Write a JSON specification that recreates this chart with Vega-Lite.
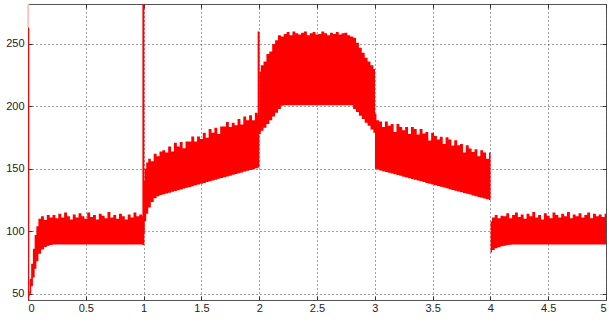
{
  "$schema": "https://vega.github.io/schema/vega-lite/v6.json",
  "width": 578,
  "height": 296,
  "autosize": "none",
  "padding": {"left": 28, "top": 4, "right": 3, "bottom": 22},
  "background": "white",
  "config": {
    "view": {"stroke": "#555", "strokeWidth": 1},
    "axis": {
      "labelFont": "Liberation Sans",
      "labelFontSize": 11,
      "labelColor": "#222",
      "domainColor": "#555",
      "tickColor": "#333",
      "tickSize": -4,
      "labelPadding": 8,
      "title": null,
      "gridColor": "#444",
      "gridDash": [1, 3],
      "gridOpacity": 1,
      "gridWidth": 1
    }
  },
  "datasets": {
    "sig": [
      {"x": 0.011, "lo": 48, "hi": 52},
      {"x": 0.02, "lo": 50, "hi": 62},
      {"x": 0.035, "lo": 56, "hi": 74},
      {"x": 0.05, "lo": 63, "hi": 86},
      {"x": 0.065, "lo": 70, "hi": 97},
      {"x": 0.08, "lo": 76, "hi": 104},
      {"x": 0.1, "lo": 82, "hi": 110},
      {"x": 0.125, "lo": 85.5, "hi": 112},
      {"x": 0.15, "lo": 87.5, "hi": 109},
      {"x": 0.175, "lo": 88.5, "hi": 113},
      {"x": 0.2, "lo": 89, "hi": 111},
      {"x": 0.225, "lo": 89.5, "hi": 113},
      {"x": 0.25, "lo": 89.5, "hi": 110.5},
      {"x": 0.275, "lo": 89.5, "hi": 114},
      {"x": 0.3, "lo": 89.5, "hi": 111},
      {"x": 0.325, "lo": 89.5, "hi": 115},
      {"x": 0.35, "lo": 89.5, "hi": 112},
      {"x": 0.375, "lo": 89.5, "hi": 109.5},
      {"x": 0.4, "lo": 89.5, "hi": 113.5},
      {"x": 0.425, "lo": 89.5, "hi": 111},
      {"x": 0.45, "lo": 89.5, "hi": 114.5},
      {"x": 0.475, "lo": 89.5, "hi": 112},
      {"x": 0.5, "lo": 89.5, "hi": 110},
      {"x": 0.525, "lo": 89.5, "hi": 115},
      {"x": 0.55, "lo": 89.5, "hi": 111.5},
      {"x": 0.575, "lo": 89.5, "hi": 113},
      {"x": 0.6, "lo": 89.5, "hi": 109.5},
      {"x": 0.625, "lo": 89.5, "hi": 114},
      {"x": 0.65, "lo": 89.5, "hi": 112.5},
      {"x": 0.675, "lo": 89.5, "hi": 110.5},
      {"x": 0.7, "lo": 89.5, "hi": 115.5},
      {"x": 0.725, "lo": 89.5, "hi": 111},
      {"x": 0.75, "lo": 89.5, "hi": 113},
      {"x": 0.775, "lo": 89.5, "hi": 110},
      {"x": 0.8, "lo": 89.5, "hi": 114},
      {"x": 0.825, "lo": 89.5, "hi": 112},
      {"x": 0.85, "lo": 89.5, "hi": 109.5},
      {"x": 0.875, "lo": 89.5, "hi": 113.5},
      {"x": 0.9, "lo": 89.5, "hi": 111},
      {"x": 0.925, "lo": 89.5, "hi": 115},
      {"x": 0.95, "lo": 89.5, "hi": 112},
      {"x": 0.975, "lo": 89.5, "hi": 113.5},
      {"x": 1.0, "lo": 89.5, "hi": 112},
      {"x": 1.003, "lo": 98, "hi": 140},
      {"x": 1.015, "lo": 108, "hi": 150},
      {"x": 1.03, "lo": 114, "hi": 155},
      {"x": 1.05, "lo": 119, "hi": 158},
      {"x": 1.075, "lo": 123.5, "hi": 156},
      {"x": 1.1, "lo": 126.5, "hi": 162},
      {"x": 1.125, "lo": 128, "hi": 160},
      {"x": 1.15, "lo": 129, "hi": 164},
      {"x": 1.175, "lo": 129.6, "hi": 165},
      {"x": 1.2, "lo": 130.3, "hi": 163},
      {"x": 1.225, "lo": 130.9, "hi": 168},
      {"x": 1.25, "lo": 131.6, "hi": 164},
      {"x": 1.275, "lo": 132.2, "hi": 171},
      {"x": 1.3, "lo": 132.9, "hi": 168},
      {"x": 1.325, "lo": 133.5, "hi": 171.5},
      {"x": 1.35, "lo": 134.2, "hi": 166.5},
      {"x": 1.375, "lo": 134.8, "hi": 172},
      {"x": 1.4, "lo": 135.5, "hi": 172},
      {"x": 1.425, "lo": 136.1, "hi": 176},
      {"x": 1.45, "lo": 136.8, "hi": 172},
      {"x": 1.475, "lo": 137.4, "hi": 176},
      {"x": 1.5, "lo": 138.1, "hi": 174},
      {"x": 1.525, "lo": 138.7, "hi": 179},
      {"x": 1.55, "lo": 139.4, "hi": 175},
      {"x": 1.575, "lo": 140.0, "hi": 182},
      {"x": 1.6, "lo": 140.7, "hi": 179},
      {"x": 1.625, "lo": 141.3, "hi": 183},
      {"x": 1.65, "lo": 142.0, "hi": 178},
      {"x": 1.675, "lo": 142.6, "hi": 184},
      {"x": 1.7, "lo": 143.2, "hi": 184},
      {"x": 1.725, "lo": 143.9, "hi": 187.5},
      {"x": 1.75, "lo": 144.5, "hi": 183.5},
      {"x": 1.775, "lo": 145.2, "hi": 187},
      {"x": 1.8, "lo": 145.8, "hi": 185},
      {"x": 1.825, "lo": 146.5, "hi": 190},
      {"x": 1.85, "lo": 147.1, "hi": 185.5},
      {"x": 1.875, "lo": 147.8, "hi": 192},
      {"x": 1.9, "lo": 148.4, "hi": 189},
      {"x": 1.925, "lo": 149.1, "hi": 193},
      {"x": 1.95, "lo": 149.7, "hi": 189},
      {"x": 1.975, "lo": 150.4, "hi": 195},
      {"x": 2.0, "lo": 151, "hi": 193},
      {"x": 2.003, "lo": 178, "hi": 228},
      {"x": 2.025, "lo": 180.5, "hi": 233},
      {"x": 2.05, "lo": 183, "hi": 236},
      {"x": 2.075, "lo": 186, "hi": 242},
      {"x": 2.1, "lo": 189, "hi": 244},
      {"x": 2.125, "lo": 192, "hi": 250},
      {"x": 2.15, "lo": 195, "hi": 253},
      {"x": 2.175, "lo": 198, "hi": 257},
      {"x": 2.2, "lo": 200.5, "hi": 256},
      {"x": 2.225, "lo": 201, "hi": 258},
      {"x": 2.25, "lo": 201, "hi": 259.5},
      {"x": 2.275, "lo": 201, "hi": 257},
      {"x": 2.3, "lo": 201, "hi": 260},
      {"x": 2.325, "lo": 201, "hi": 258.5},
      {"x": 2.35, "lo": 201, "hi": 257.5},
      {"x": 2.375, "lo": 201, "hi": 259},
      {"x": 2.4, "lo": 201, "hi": 260},
      {"x": 2.425, "lo": 201, "hi": 257},
      {"x": 2.45, "lo": 201, "hi": 258.5},
      {"x": 2.475, "lo": 201, "hi": 259.5},
      {"x": 2.5, "lo": 201, "hi": 257.5},
      {"x": 2.525, "lo": 201, "hi": 258},
      {"x": 2.55, "lo": 201, "hi": 260},
      {"x": 2.575, "lo": 201, "hi": 258.5},
      {"x": 2.6, "lo": 201, "hi": 257},
      {"x": 2.625, "lo": 201, "hi": 259},
      {"x": 2.65, "lo": 201, "hi": 258},
      {"x": 2.675, "lo": 201, "hi": 259.5},
      {"x": 2.7, "lo": 201, "hi": 257.5},
      {"x": 2.725, "lo": 201, "hi": 258.5},
      {"x": 2.75, "lo": 201, "hi": 259},
      {"x": 2.775, "lo": 201, "hi": 257},
      {"x": 2.8, "lo": 201, "hi": 256},
      {"x": 2.825, "lo": 198, "hi": 255},
      {"x": 2.85, "lo": 195.5, "hi": 251},
      {"x": 2.875, "lo": 192.5, "hi": 247},
      {"x": 2.9, "lo": 190, "hi": 243},
      {"x": 2.925, "lo": 187, "hi": 239},
      {"x": 2.95, "lo": 184.5, "hi": 236},
      {"x": 2.975, "lo": 181.5, "hi": 233},
      {"x": 3.0, "lo": 179, "hi": 230},
      {"x": 3.003, "lo": 150, "hi": 194},
      {"x": 3.025, "lo": 149.5, "hi": 189},
      {"x": 3.05, "lo": 148.75, "hi": 188},
      {"x": 3.075, "lo": 148.1, "hi": 183.5},
      {"x": 3.1, "lo": 147.5, "hi": 188},
      {"x": 3.125, "lo": 146.9, "hi": 184.5},
      {"x": 3.15, "lo": 146.25, "hi": 186},
      {"x": 3.175, "lo": 145.6, "hi": 179.5},
      {"x": 3.2, "lo": 145, "hi": 186},
      {"x": 3.225, "lo": 144.4, "hi": 183.5},
      {"x": 3.25, "lo": 143.75, "hi": 181},
      {"x": 3.275, "lo": 143.1, "hi": 183.5},
      {"x": 3.3, "lo": 142.5, "hi": 178},
      {"x": 3.325, "lo": 141.9, "hi": 183.5},
      {"x": 3.35, "lo": 141.25, "hi": 182},
      {"x": 3.375, "lo": 140.6, "hi": 177.5},
      {"x": 3.4, "lo": 140, "hi": 182},
      {"x": 3.425, "lo": 139.4, "hi": 178.25},
      {"x": 3.45, "lo": 138.75, "hi": 179.5},
      {"x": 3.475, "lo": 138.1, "hi": 172.75},
      {"x": 3.5, "lo": 137.5, "hi": 179},
      {"x": 3.525, "lo": 136.9, "hi": 176.25},
      {"x": 3.55, "lo": 136.25, "hi": 173.5},
      {"x": 3.575, "lo": 135.6, "hi": 175.75},
      {"x": 3.6, "lo": 135, "hi": 170},
      {"x": 3.625, "lo": 134.4, "hi": 175.25},
      {"x": 3.65, "lo": 133.75, "hi": 173.5},
      {"x": 3.675, "lo": 133.1, "hi": 168.75},
      {"x": 3.7, "lo": 132.5, "hi": 173},
      {"x": 3.725, "lo": 131.9, "hi": 169},
      {"x": 3.75, "lo": 131.25, "hi": 170},
      {"x": 3.775, "lo": 130.6, "hi": 163},
      {"x": 3.8, "lo": 130, "hi": 169},
      {"x": 3.825, "lo": 129.4, "hi": 166.25},
      {"x": 3.85, "lo": 128.75, "hi": 163.5},
      {"x": 3.875, "lo": 128.1, "hi": 165.75},
      {"x": 3.9, "lo": 127.5, "hi": 160},
      {"x": 3.925, "lo": 126.9, "hi": 165},
      {"x": 3.95, "lo": 126.25, "hi": 163},
      {"x": 3.975, "lo": 125.6, "hi": 158},
      {"x": 4.0, "lo": 125, "hi": 163},
      {"x": 4.003, "lo": 83, "hi": 108},
      {"x": 4.025, "lo": 85, "hi": 111},
      {"x": 4.05, "lo": 86.5, "hi": 113},
      {"x": 4.075, "lo": 87.3, "hi": 110.5},
      {"x": 4.1, "lo": 88, "hi": 112.5},
      {"x": 4.125, "lo": 88.5, "hi": 112},
      {"x": 4.15, "lo": 89, "hi": 114.5},
      {"x": 4.175, "lo": 89.2, "hi": 110.5},
      {"x": 4.2, "lo": 89.5, "hi": 113},
      {"x": 4.225, "lo": 89.5, "hi": 115},
      {"x": 4.25, "lo": 89.5, "hi": 111.5},
      {"x": 4.275, "lo": 89.5, "hi": 113.5},
      {"x": 4.3, "lo": 89.5, "hi": 110},
      {"x": 4.325, "lo": 89.5, "hi": 114},
      {"x": 4.35, "lo": 89.5, "hi": 112},
      {"x": 4.375, "lo": 89.5, "hi": 115.5},
      {"x": 4.4, "lo": 89.5, "hi": 111},
      {"x": 4.425, "lo": 89.5, "hi": 113},
      {"x": 4.45, "lo": 89.5, "hi": 109.5},
      {"x": 4.475, "lo": 89.5, "hi": 114.5},
      {"x": 4.5, "lo": 89.5, "hi": 112.5},
      {"x": 4.525, "lo": 89.5, "hi": 110.5},
      {"x": 4.55, "lo": 89.5, "hi": 115},
      {"x": 4.575, "lo": 89.5, "hi": 113},
      {"x": 4.6, "lo": 89.5, "hi": 111},
      {"x": 4.625, "lo": 89.5, "hi": 114},
      {"x": 4.65, "lo": 89.5, "hi": 112},
      {"x": 4.675, "lo": 89.5, "hi": 115.5},
      {"x": 4.7, "lo": 89.5, "hi": 110.5},
      {"x": 4.725, "lo": 89.5, "hi": 113.5},
      {"x": 4.75, "lo": 89.5, "hi": 112},
      {"x": 4.775, "lo": 89.5, "hi": 114.5},
      {"x": 4.8, "lo": 89.5, "hi": 111},
      {"x": 4.825, "lo": 89.5, "hi": 113},
      {"x": 4.85, "lo": 89.5, "hi": 115},
      {"x": 4.875, "lo": 89.5, "hi": 110.5},
      {"x": 4.9, "lo": 89.5, "hi": 114},
      {"x": 4.925, "lo": 89.5, "hi": 112},
      {"x": 4.95, "lo": 89.5, "hi": 113.5},
      {"x": 4.975, "lo": 89.5, "hi": 111.5},
      {"x": 5.0, "lo": 89.5, "hi": 114}
    ],
    "spikes": [
      {"x": 0.002, "y": 45, "y2": 263},
      {"x": 0.998, "y": 89, "y2": 282},
      {"x": 1.995, "y": 190, "y2": 260}
    ],
    "tails": [
      {"x": 0.002, "y": 263, "y2": 282}
    ]
  },
  "layer": [
    {
      "data": {"name": "sig"},
      "mark": {"type": "area", "color": "#ff0000", "interpolate": "step", "clip": true},
      "encoding": {
        "x": {
          "field": "x", "type": "quantitative",
          "scale": {"domain": [0, 5], "nice": false, "zero": false},
          "axis": {"orient": "bottom", "values": [0, 0.5, 1, 1.5, 2, 2.5, 3, 3.5, 4, 4.5, 5], "format": "~g", "grid": true, "labelPadding": 6}
        },
        "y": {
          "field": "hi", "type": "quantitative",
          "scale": {"domain": [45, 282], "nice": false, "zero": false},
          "axis": {"orient": "left", "values": [50, 100, 150, 200, 250], "grid": true}
        },
        "y2": {"field": "lo"}
      }
    },
    {
      "data": {"name": "tails"},
      "mark": {"type": "rule", "color": "#f7c4c4", "strokeWidth": 2},
      "encoding": {
        "x": {"field": "x", "type": "quantitative", "axis": {"orient": "top", "values": [0, 0.5, 1, 1.5, 2, 2.5, 3, 3.5, 4, 4.5, 5], "labels": false, "grid": false, "domain": false}},
        "y": {"field": "y", "type": "quantitative", "axis": {"orient": "right", "values": [50, 100, 150, 200, 250], "labels": false, "grid": false, "domain": false}},
        "y2": {"field": "y2"}
      }
    },
    {
      "data": {"name": "spikes"},
      "mark": {"type": "rule", "color": "#ff0000", "strokeWidth": 2, "clip": true},
      "encoding": {
        "x": {"field": "x", "type": "quantitative", "axis": null},
        "y": {"field": "y", "type": "quantitative", "axis": null},
        "y2": {"field": "y2"}
      }
    }
  ],
  "resolve": {"axis": {"x": "independent", "y": "independent"}}
}
